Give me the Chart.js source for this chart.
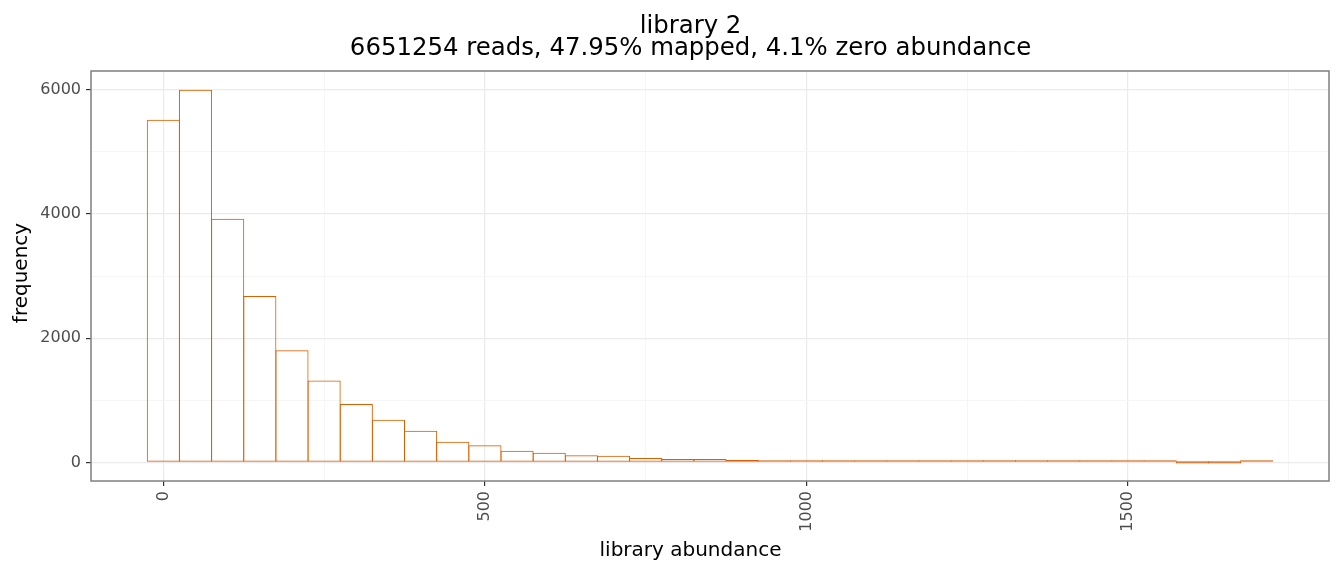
<!DOCTYPE html>
<html>
<head>
<meta charset="utf-8">
<title>library 2</title>
<script src="https://cdn.jsdelivr.net/npm/chart.js@4.4.1/dist/chart.umd.min.js"></script>
<style>
  html, body { margin: 0; padding: 0; background: #fff; }
  #wrap { width: 1335px; height: 562px; position: relative; }
</style>
</head>
<body>
<div id="wrap"><canvas id="chart"></canvas></div>
<script>
// Histogram of library abundance (bin width 50, centred on multiples of 50).
const binCenters = [0, 50, 100, 150, 200, 250, 300, 350, 400, 450, 500, 550, 600, 650, 700, 750, 800,
  850, 900, 950, 1000, 1050, 1100, 1150, 1200, 1250, 1300, 1350, 1400, 1450, 1500, 1550, 1600, 1650, 1700];
const counts = [5515, 6000, 3920, 2680, 1806, 1318, 938, 686, 507, 330, 276, 185, 153, 115, 105, 72, 56,
  56, 40, 24, 19, 19, 13, 9, 7, 6, 5, 4, 4, 3, 3, 2, 0, 0, 4];

const xMajorTicks = [0, 500, 1000, 1500];
const xMinorTicks = [250, 750, 1250, 1750];
const yMajorTicks = [0, 2000, 4000, 6000];
const yMinorTicks = [1000, 3000, 5000];

const titleLines = ['library 2', '6651254 reads, 47.95% mapped, 4.1% zero abundance'];
const xTitle = 'library abundance';
const yTitle = 'frequency';

const FONT = "'DejaVu Sans', 'Liberation Sans', sans-serif";
const BAR = '#d95f02';

const tickSet = (major, minor) => (scale) => {
  scale.ticks = major.concat(minor).sort((a, b) => a - b).map((v) => ({ value: v }));
};
const isMajor = (list) => (ctx) => list.includes(ctx.tick && ctx.tick.value);

// Panel border plus titles, drawn the ggplot way (centred on 690).
const decor = {
  id: 'decor',
  beforeDraw(chart) {
    const { ctx } = chart;
    ctx.save();
    ctx.fillStyle = '#fff';
    ctx.fillRect(0, 0, chart.width, chart.height);
    ctx.restore();
  },
  afterDraw(chart) {
    const { ctx, chartArea: a } = chart;
    ctx.save();
    ctx.strokeStyle = '#7f7f7f';
    ctx.lineWidth = 1.5;
    ctx.strokeRect(a.left, a.top, a.right - a.left, a.bottom - a.top);

    ctx.fillStyle = '#000';
    ctx.textAlign = 'center';
    ctx.textBaseline = 'alphabetic';
    ctx.font = '24.4px ' + FONT;
    ctx.fillText(titleLines[0], 690.5, 33);
    ctx.fillText(titleLines[1], 690.5, 55);

    ctx.font = '20px ' + FONT;
    ctx.fillText(xTitle, 690.5, 556);

    ctx.translate(27, 273);
    ctx.rotate(-Math.PI / 2);
    ctx.fillText(yTitle, 0, 0);
    ctx.restore();
  },
};

new Chart(document.getElementById('chart'), {
  type: 'bar',
  data: {
    datasets: [{
      data: binCenters.map((x, i) => ({ x, y: counts[i] })),
      backgroundColor: 'transparent',
      borderColor: BAR,
      borderWidth: 1,
      borderSkipped: false,
      inflateAmount: 0,
      // Chart.js trims half the zero gridline off the base, so leave room for a visible sliver
      minBarLength: 2.1,
      // a hair over 1 so neighbouring outlines overlap into a single 1px edge
      barPercentage: 1.031,
      categoryPercentage: 1,
    }],
  },
  options: {
    responsive: true,
    maintainAspectRatio: false,
    animation: false,
    layout: { padding: { top: 71, right: 6, bottom: 0, left: 0 } },
    plugins: { legend: { display: false }, title: { display: false }, tooltip: { enabled: false } },
    scales: {
      x: {
        type: 'linear',
        min: -112.5,
        max: 1812.5,
        offset: false,
        afterBuildTicks: tickSet(xMajorTicks, xMinorTicks),
        afterFit: (scale) => { scale.height = 81; },
        border: { display: false },
        grid: {
          offset: false,
          color: (ctx) => (isMajor(xMajorTicks)(ctx) ? '#ebebeb' : '#f4f4f4'),
          lineWidth: (ctx) => (isMajor(xMajorTicks)(ctx) ? 1.2 : 0.8),
          tickColor: (ctx) => (isMajor(xMajorTicks)(ctx) ? '#333' : 'rgba(0,0,0,0)'),
          tickLength: 5,
          tickWidth: 1.2,
        },
        ticks: {
          autoSkip: false,
          minRotation: 90,
          maxRotation: 90,
          padding: 5,
          color: '#4d4d4d',
          font: { family: FONT, size: 16 },
          callback: (v) => (xMajorTicks.includes(v) ? String(v) : ''),
        },
      },
      y: {
        min: -300,
        max: 6300,
        afterBuildTicks: tickSet(yMajorTicks, yMinorTicks),
        afterFit: (scale) => { scale.width = 91; },
        border: { display: false },
        grid: {
          color: (ctx) => (isMajor(yMajorTicks)(ctx) ? '#ebebeb' : '#f4f4f4'),
          lineWidth: (ctx) => (isMajor(yMajorTicks)(ctx) ? 1.2 : 0.8),
          tickColor: (ctx) => (isMajor(yMajorTicks)(ctx) ? '#333' : 'rgba(0,0,0,0)'),
          tickLength: 5,
          tickWidth: 1.2,
        },
        ticks: {
          padding: 5,
          color: '#4d4d4d',
          font: { family: FONT, size: 16 },
          callback: (v) => (yMajorTicks.includes(v) ? String(v) : ''),
        },
      },
    },
  },
  plugins: [decor],
});
</script>
</body>
</html>
